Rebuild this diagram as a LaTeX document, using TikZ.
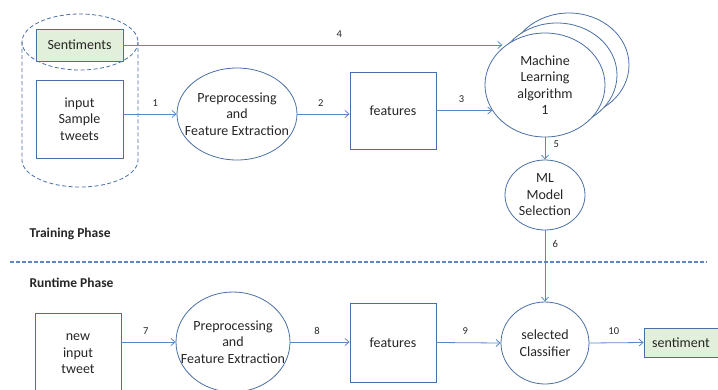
\documentclass[tikz,border=0pt]{standalone}
\usepackage{fontspec}
\setmainfont{Carlito}
\usetikzlibrary{arrows.meta,shapes.geometric}
\definecolor{edge}{HTML}{4A6FA5}
\definecolor{wire}{HTML}{5B87C9}
\definecolor{greenfill}{HTML}{E2EFDA}
\definecolor{ink}{HTML}{262626}
\tikzset{
  txt/.style={text=ink, font=\fontsize{14}{16.5}\selectfont, align=center, inner sep=0pt},
  box/.style={draw=edge, line width=0.8pt, txt},
  oval/.style={ellipse, draw=edge, line width=0.8pt, inner sep=0pt},
  inside/.style={label={[txt]center:{#1}}},
  arr/.style={draw=wire, line width=0.8pt, -{Straight Barb[length=4pt,width=7pt]}},
  lbl/.style={font=\fontsize{10.5}{12}\selectfont, text=ink, above=4pt},
  phase/.style={font=\bfseries\fontsize{13.5}{15}\selectfont, text=ink, anchor=west},
  store/.style={draw=edge, line width=0.8pt, dash pattern=on 4pt off 2.5pt}
}
\begin{document}
\begin{tikzpicture}[x=1pt,y=-1pt]
\useasboundingbox (0,0) rectangle (718,389);

% dashed data store holding the training inputs
\draw[store] (22,42) -- (22,160) arc[start angle=180, end angle=0, x radius=58, y radius=27] -- (138,42);
\draw[store] (80,42) ellipse[x radius=58, y radius=28];

% training row
\node[box, fill=greenfill, minimum width=87pt, minimum height=32pt] (sent) at (79.5,45) {Sentiments};
\node[box, minimum width=87pt, minimum height=78pt] (samp) at (79.5,119) {input\\Sample\\tweets};
\node[oval, minimum width=120pt, minimum height=92pt, inside={Preprocessing\\and\\Feature Extraction}] (pre1) at (237,114) {};
\node[box, minimum width=86pt, minimum height=77pt] (feat1) at (393,110.5) {features};

% stacked learners
\node[oval, minimum width=120pt, minimum height=104pt] (mlc) at (569,65) {};
\node[oval, fill=white, minimum width=120pt, minimum height=104pt] (mlb) at (557,75) {};
\node[oval, fill=white, minimum width=120pt, minimum height=104pt, inside={Machine\\Learning\\algorithm\\1}] (mlf) at (545,85) {};

\node[oval, minimum width=80pt, minimum height=70pt, inside={ML\\Model\\Selection}] (sel) at (545,195) {};

\draw[arr] (samp.east |- pre1.west) -- node[lbl, pos=0.6] {1} (pre1.west);
\draw[arr] (pre1.east) -- node[lbl, pos=0.45] {2} (pre1.east -| feat1.west);
\draw[arr] (feat1.east) -- node[lbl, pos=0.45] {3} (feat1.east -| mlf.206);
\draw[arr] (sent.east) -- node[lbl, pos=0.57] {4} (sent.east -| mlf.139);
\draw[arr] (mlf.south) -- node[lbl, above=0pt, right=5pt] {5} (sel.north);

% phase separator
\coordinate (sepl) at (10,262);
\coordinate (sepr) at (707,262);
\draw[wire, line width=1.3pt, dash pattern=on 4pt off 2pt] (sepl) -- (sepr);
\node[phase] (train) at (26,234) {Training Phase};
\node[phase] (run) at (26,283) {Runtime Phase};

% runtime row
\node[box, minimum width=86pt, minimum height=100pt, label={[txt, yshift=9pt]center:{new\\input\\tweet}}] (newt) at (78,363) {};
\node[oval, minimum width=114pt, minimum height=100pt, inside={Preprocessing\\and\\Feature Extraction}] (pre2) at (233,342) {};
\node[box, minimum width=86pt, minimum height=79pt] (feat2) at (393,342.5) {features};
\node[oval, minimum width=88pt, minimum height=82pt, inside={selected\\Classifier}] (cls) at (545,343) {};
\node[box, fill=greenfill, minimum width=74pt, minimum height=29pt] (out) at (681,342.5) {sentiment};

\draw[arr] (sel.south) -- node[lbl, above=0pt, right=4pt, pos=0.25] {6} (cls.north);
\draw[arr] (newt.east |- pre2.west) -- node[lbl, pos=0.45] {7} (pre2.west);
\draw[arr] (pre2.east) -- node[lbl, pos=0.45] {8} (pre2.east -| feat2.west);
\draw[arr] (feat2.east) -- node[lbl, pos=0.45] {9} (cls.west);
\draw[arr] (cls.east) -- node[lbl, pos=0.45] {10} (out.west);
\end{tikzpicture}
\end{document}
